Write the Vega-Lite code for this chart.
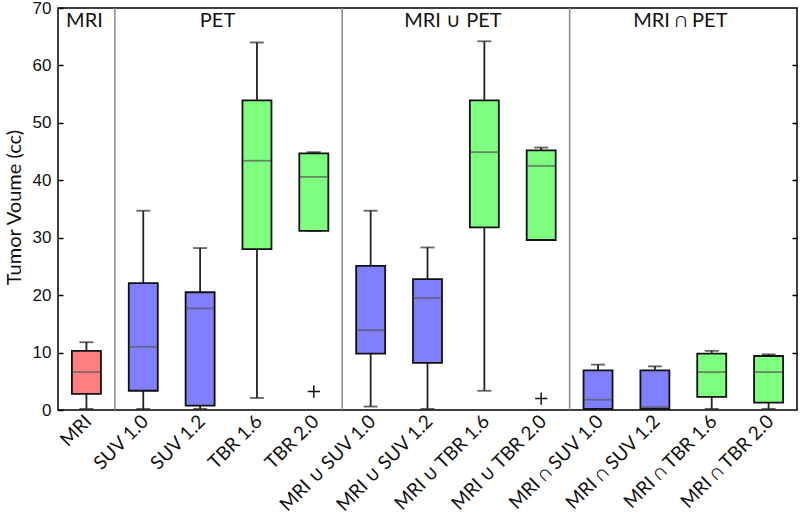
{
  "$schema": "https://vega.github.io/schema/vega-lite/v6.json",
  "width": 739,
  "height": 402,
  "autosize": {"type": "none"},
  "padding": {"left": 58, "top": 8, "right": 3, "bottom": 105},
  "background": "white",
  "config": {"view": {"stroke": "#000", "strokeWidth": 1.5}},
  "datasets": {
    "boxes": [
      {"cat": "MRI", "type": "MRI", "lower": 0.2, "q1": 2.8, "median": 6.6, "q3": 10.3, "upper": 11.8},
      {"cat": "SUV 1.0", "type": "SUV", "lower": 0.2, "q1": 3.35, "median": 11.0, "q3": 22.1, "upper": 34.7},
      {"cat": "SUV 1.2", "type": "SUV", "lower": 0.2, "q1": 0.75, "median": 17.7, "q3": 20.5, "upper": 28.2},
      {"cat": "TBR 1.6", "type": "TBR", "lower": 2.1, "q1": 28.0, "median": 43.4, "q3": 53.9, "upper": 64.0},
      {"cat": "TBR 2.0", "type": "TBR", "lower": 31.2, "q1": 31.2, "median": 40.6, "q3": 44.7, "upper": 44.9, "outlier": 3.2},
      {"cat": "MRI ∪ SUV 1.0", "type": "SUV", "lower": 0.6, "q1": 9.8, "median": 13.9, "q3": 25.1, "upper": 34.7},
      {"cat": "MRI ∪ SUV 1.2", "type": "SUV", "lower": 0.2, "q1": 8.2, "median": 19.5, "q3": 22.8, "upper": 28.3},
      {"cat": "MRI ∪ TBR 1.6", "type": "TBR", "lower": 3.35, "q1": 31.8, "median": 44.9, "q3": 53.9, "upper": 64.2},
      {"cat": "MRI ∪ TBR 2.0", "type": "TBR", "lower": 29.6, "q1": 29.6, "median": 42.5, "q3": 45.2, "upper": 45.7, "outlier": 2.0},
      {"cat": "MRI ∩ SUV 1.0", "type": "SUV", "lower": 0.2, "q1": 0.2, "median": 1.8, "q3": 6.9, "upper": 7.9},
      {"cat": "MRI ∩ SUV 1.2", "type": "SUV", "lower": 0.2, "q1": 0.2, "median": 0.5, "q3": 6.9, "upper": 7.6},
      {"cat": "MRI ∩ TBR 1.6", "type": "TBR", "lower": 0.2, "q1": 2.3, "median": 6.6, "q3": 9.8, "upper": 10.3},
      {"cat": "MRI ∩ TBR 2.0", "type": "TBR", "lower": 0.2, "q1": 1.3, "median": 6.6, "q3": 9.4, "upper": 9.7}
    ],
    "seps": [{"cat": "SUV 1.0"}, {"cat": "MRI ∪ SUV 1.0"}, {"cat": "MRI ∩ SUV 1.0"}],
    "groups": [
      {"label": "MRI", "cat": "MRI"},
      {"label": "PET", "cat": "TBR 1.6"},
      {"label": "MRI ∪ PET", "cat": "MRI ∪ TBR 1.6"},
      {"label": "MRI ∩ PET", "cat": "MRI ∩ TBR 1.6"}
    ]
  },
  "resolve": {"axis": {"y": "independent"}},
  "layer": [
    {
      "data": {"name": "seps"},
      "mark": {"type": "rule", "color": "#888888", "strokeWidth": 1.5},
      "encoding": {
        "x": {"field": "cat", "type": "nominal", "bandPosition": 0,
              "scale": {"domain": ["MRI", "SUV 1.0", "SUV 1.2", "TBR 1.6", "TBR 2.0", "MRI ∪ SUV 1.0", "MRI ∪ SUV 1.2", "MRI ∪ TBR 1.6", "MRI ∪ TBR 2.0", "MRI ∩ SUV 1.0", "MRI ∩ SUV 1.2", "MRI ∩ TBR 1.6", "MRI ∩ TBR 2.0"], "paddingInner": 0, "paddingOuter": 0},
              "axis": {"title": null, "labelAngle": -45, "labelAlign": "right", "labelBaseline": "middle", "labelFont": "Lato", "labelFontSize": 19, "labelColor": "#111", "ticks": false, "domain": false, "labelPadding": 8, "labelOffset": 2}}
      }
    },
    {
      "data": {"name": "boxes"},
      "mark": {"type": "rule", "color": "#222", "strokeWidth": 1.8},
      "encoding": {
        "x": {"field": "cat", "type": "nominal"},
        "y": {"field": "lower", "type": "quantitative", "scale": {"domain": [0, 70], "nice": false},
              "axis": {"orient": "right", "labels": false, "title": null, "domain": false, "values": [10, 20, 30, 40, 50, 60], "tickSize": -5, "tickColor": "#000", "tickWidth": 1.5, "grid": false}},
        "y2": {"field": "upper"}
      }
    },
    {
      "data": {"name": "boxes"},
      "mark": {"type": "tick", "color": "#222", "size": 14, "thickness": 1.8},
      "encoding": {
        "x": {"field": "cat", "type": "nominal"},
        "y": {"field": "upper", "type": "quantitative", "axis": null}
      }
    },
    {
      "data": {"name": "boxes"},
      "mark": {"type": "tick", "color": "#222", "size": 14, "thickness": 1.8},
      "encoding": {
        "x": {"field": "cat", "type": "nominal"},
        "y": {"field": "lower", "type": "quantitative", "axis": null}
      }
    },
    {
      "data": {"name": "boxes"},
      "mark": {"type": "bar", "size": 29, "stroke": "#111", "strokeWidth": 1.8},
      "encoding": {
        "x": {"field": "cat", "type": "nominal"},
        "y": {"field": "q1", "type": "quantitative",
              "axis": {"title": "Tumor Voume (cc)", "titleFont": "Lato", "titleFontSize": 20, "titleFontWeight": "normal", "titleColor": "#111", "titlePadding": 8, "titleY": 199,
                       "values": [0, 10, 20, 30, 40, 50, 60, 70], "labelFont": "Liberation Sans", "labelFontSize": 17, "labelColor": "#111", "tickSize": -5, "tickColor": "#000", "tickWidth": 1.5, "labelPadding": 12, "domain": false, "grid": false}},
        "y2": {"field": "q3"},
        "color": {"field": "type", "type": "nominal", "scale": {"domain": ["MRI", "SUV", "TBR"], "range": ["#FF7F7F", "#7F7FFF", "#7FFF7F"]}, "legend": null}
      }
    },
    {
      "data": {"name": "boxes"},
      "mark": {"type": "tick", "color": "#555", "size": 28, "thickness": 1.8},
      "encoding": {
        "x": {"field": "cat", "type": "nominal"},
        "y": {"field": "median", "type": "quantitative", "axis": null}
      }
    },
    {
      "data": {"name": "boxes"},
      "transform": [{"filter": "datum.outlier != null"}],
      "mark": {"type": "point", "shape": "M-1,0L1,0M0,-1L0,1", "filled": false, "color": "#111", "strokeWidth": 1.5, "size": 150, "opacity": 1},
      "encoding": {
        "x": {"field": "cat", "type": "nominal"},
        "y": {"field": "outlier", "type": "quantitative", "axis": null}
      }
    },
    {
      "data": {"name": "groups"},
      "transform": [{"filter": "datum.label == 'MRI'"}],
      "mark": {"type": "text", "font": "Lato", "fontSize": 20, "color": "#111", "baseline": "middle", "align": "center", "dx": -2},
      "encoding": {
        "x": {"field": "cat", "type": "nominal"},
        "y": {"datum": 67.8, "type": "quantitative", "axis": null},
        "text": {"field": "label"}
      }
    },
    {
      "data": {"name": "groups"},
      "transform": [{"filter": "datum.label == 'PET'"}],
      "mark": {"type": "text", "font": "Lato", "fontSize": 20, "color": "#111", "baseline": "middle", "align": "center", "dx": -11},
      "encoding": {
        "x": {"field": "cat", "type": "nominal", "bandPosition": 0},
        "y": {"datum": 67.8, "type": "quantitative", "axis": null},
        "text": {"field": "label"}
      }
    },
    {
      "data": {"name": "groups"},
      "transform": [{"filter": "datum.label != 'PET' && datum.label != 'MRI'"}],
      "mark": {"type": "text", "font": "Lato", "fontSize": 20, "color": "#111", "baseline": "middle", "align": "center", "dx": -3},
      "encoding": {
        "x": {"field": "cat", "type": "nominal", "bandPosition": 0},
        "y": {"datum": 67.8, "type": "quantitative", "axis": null},
        "text": {"field": "label"}
      }
    }
  ]
}
